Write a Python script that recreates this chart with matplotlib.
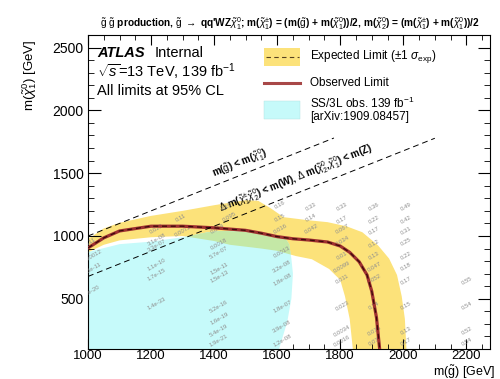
import matplotlib.pyplot as plt
from matplotlib.patches import Polygon, Rectangle
from matplotlib.lines import Line2D

plt.rcParams['font.family'] = ['Liberation Sans', 'DejaVu Sans']
plt.rcParams['mathtext.fontset'] = 'custom'
plt.rcParams['mathtext.rm'] = 'Liberation Sans'
plt.rcParams['mathtext.it'] = 'Liberation Sans:italic'
plt.rcParams['mathtext.bf'] = 'Liberation Sans:bold'

# observed limit
obs_x = [1000, 1050, 1100, 1200, 1300, 1400, 1500, 1550, 1600, 1650, 1700, 1760, 1800, 1830, 1860, 1885, 1900, 1915, 1925]
obs_y = [905, 985, 1040, 1078, 1078, 1065, 1045, 1022, 995, 978, 968, 952, 920, 870, 795, 690, 560, 350, 100]

# expected limit (sits on top of the observed one)
exp_x = [1000, 1050, 1100, 1200, 1300, 1400, 1500, 1550, 1600, 1650, 1700, 1760, 1800, 1830, 1860, 1885, 1900, 1915, 1925]
exp_y = [905, 985, 1040, 1078, 1078, 1065, 1045, 1022, 995, 978, 968, 952, 920, 870, 795, 690, 560, 350, 100]

# +1 sigma / -1 sigma edges of the expected band
up_x = [1000, 1050, 1100, 1200, 1300, 1400, 1500, 1540, 1580, 1620, 1700, 1760, 1820, 1870, 1920, 1955, 1980, 1995, 2005, 2010]
up_y = [975, 1060, 1105, 1160, 1200, 1245, 1285, 1280, 1220, 1150, 1125, 1110, 1077, 1030, 925, 820, 690, 520, 340, 100]
dn_x = [1000, 1050, 1100, 1200, 1300, 1400, 1450, 1500, 1550, 1600, 1660, 1710, 1765, 1800, 1815, 1830, 1840]
dn_y = [870, 930, 965, 990, 1000, 960, 930, 915, 900, 882, 840, 815, 737, 650, 520, 340, 100]

# SS/3L observed excluded region outline
ss3l_x = [1000, 1606, 1616, 1632, 1645, 1650, 1645, 1638, 1625, 1600, 1520, 1420, 1380, 1300, 1200, 1100, 1000]
ss3l_y = [100, 100, 184, 318, 500, 700, 820, 935, 985, 1005, 1035, 1040, 1030, 990, 955, 935, 872]

# CLs values printed at signal points
pt_x = [1010, 1015, 1015, 1010,
        1216, 1219, 1219, 1219, 1219, 1219, 1295, 1300,
        1440, 1450, 1410, 1416, 1416, 1416, 1416, 1416, 1416, 1416, 1416,
        1610, 1610, 1612, 1616, 1616, 1616, 1616, 1616, 1616,
        1708, 1708, 1708,
        1806, 1806, 1806, 1806, 1806, 1806, 1806, 1806, 1806, 1806,
        1908, 1908, 1908, 1908, 1908, 1908, 1908, 1908, 1908, 1908,
        2010, 2010, 2010, 2010, 2010, 2010, 2010, 2010, 2010, 2010,
        2203, 2203, 2203, 2203]
pt_y = [950, 840, 740, 555,
        1053, 975, 925, 775, 695, 460, 1148, 1040,
        1235, 1148, 1060, 935, 870, 740, 674, 437, 342, 247, 168,
        1251, 1148, 1053, 875, 753, 655, 440, 280, 168,
        1235, 1148, 1053,
        1235, 1132, 1053, 959, 840, 753, 658, 445, 247, 160,
        1235, 1132, 1045, 935, 840, 753, 658, 445, 247, 160,
        1235, 1132, 1045, 951, 840, 753, 640, 445, 247, 160,
        640, 445, 247, 160]
pt_txt = ['0.11', '0.00012', '1.5e-11', '1.3e-20',
          '0.022', '3.1e-08', '3.3e-07', '1.1e-10', '1.7e-15', '1.4e-33', '0.11', '0.0072',
          '0.19', '0.095', '0.034', '0.0018', '5.7e-07', '1.5e-11', '1.5e-13', '5.2e-16', '1.6e-19', '5.4e-19', '1.9e-21',
          '0.16', '0.15', '0.016', '0.0013', '3.2e-08', '1.8e-08', '1.8e-07', '3.9e-08', '1.2e-08',
          '0.33', '0.14', '0.042',
          '0.33', '0.17', '0.067', '0.034', '0.01', '0.0099', '0.011', '0.023', '0.0034', '0.0016',
          '0.36', '0.22', '0.17', '0.12', '0.13', '0.047', '0.052', '0.14', '0.075', '0.07',
          '0.49', '0.42', '0.31', '0.25', '0.22', '0.18', '0.17', '0.15', '0.13', '0.17',
          '0.55', '0.54', '0.52', '0.54']

# kinematic lines
kin1_x = [1000, 1780]
kin1_y = [1000, 1780]
kin2_x = [1000, 2100]
kin2_y = [678, 1778]

yellow = '#fce27a'
cyan = '#c6fafa'
green = '#c4e8a6'
red = '#9e3030'

fig = plt.figure(figsize=(5, 3.79), dpi=100)
ax = fig.add_axes([0.176, 0.079, 0.804, 0.8287])

band = Polygon(list(zip(up_x, up_y)) + list(zip(dn_x, dn_y))[::-1], closed=True,
               facecolor=yellow, edgecolor='none', zorder=1)
ax.add_patch(band)
ss = Polygon(list(zip(ss3l_x, ss3l_y)), closed=True, facecolor=cyan, edgecolor='none', zorder=2)
ax.add_patch(ss)
ov = Polygon(list(zip(ss3l_x, ss3l_y)), closed=True, facecolor=green, edgecolor='none', zorder=3)
ax.add_patch(ov)
ov.set_clip_path(band)

for x, y, t in zip(pt_x, pt_y, pt_txt):
    ax.text(x, y, t, fontsize=4.3, color='#8f8f8f', rotation=30, ha='center', va='center',
            rotation_mode='anchor', clip_on=True, zorder=4)

ax.plot(obs_x, obs_y, color=red, lw=2.3, zorder=5)
ax.plot(exp_x, exp_y, color='#3a0a0a', lw=0.9, ls=(0, (4, 3)), zorder=6)

ax.plot(kin1_x, kin1_y, color='black', lw=0.7, ls=(0, (6, 4)), zorder=6)
ax.plot(kin2_x, kin2_y, color='black', lw=0.7, ls=(0, (6, 4)), zorder=6)
ax.text(1480, 1580, r'm($\tilde{\mathrm{g}}$) < m($\tilde{\chi}^{0}_{1}$)', fontsize=7,
        fontweight='bold', rotation=21.9, ha='center', va='center', rotation_mode='anchor')
ax.text(1660, 1460,
        r'$\Delta$ m($\tilde{\chi}^{\pm}_{1}\tilde{\chi}^{0}_{2}$) < m(W), '
        r'$\Delta$ m($\tilde{\chi}^{0}_{2}$,$\tilde{\chi}^{0}_{1}$) < m(Z)',
        fontsize=7, fontweight='bold', rotation=21.9, ha='center', va='center', rotation_mode='anchor')

ax.set_xlim(1000, 2275)
ax.set_ylim(100, 2600)
ax.set_xticks([1000, 1200, 1400, 1600, 1800, 2000, 2200])
ax.set_xticks(range(1000, 2275, 50), minor=True)
ax.set_yticks([500, 1000, 1500, 2000, 2500])
ax.set_yticks(range(100, 2601, 100), minor=True)
ax.tick_params(axis='both', which='both', direction='in', top=True, right=True, labelsize=10)
ax.tick_params(axis='x', which='major', length=7, pad=0.5, labelsize=9.5)
ax.tick_params(axis='x', which='minor', length=3.5)
ax.tick_params(axis='y', which='major', length=9, pad=3)
ax.tick_params(axis='y', which='minor', length=4.5)
for s in ax.spines.values():
    s.set_linewidth(0.8)

# header texts
ax.text(0.022, 0.943, 'ATLAS', transform=ax.transAxes, fontsize=10.5, fontweight='bold',
        fontstyle='italic', va='center')
ax.text(0.165, 0.943, 'Internal', transform=ax.transAxes, fontsize=10.5, va='center')
ax.text(0.022, 0.882, r'$\sqrt{s}$=13 TeV, 139 fb$^{-1}$', transform=ax.transAxes, fontsize=10.5, va='center')
ax.text(0.022, 0.822, 'All limits at 95% CL', transform=ax.transAxes, fontsize=10.5, va='center')

# legend drawn by hand
ax.add_patch(Rectangle((0.438, 0.902), 0.089, 0.056, transform=ax.transAxes,
                       facecolor=yellow, edgecolor='none', zorder=7))
ax.add_line(Line2D([0.442, 0.524], [0.930, 0.930], transform=ax.transAxes, color='#554020',
                   lw=0.8, ls=(0, (4, 3)), zorder=8))
ax.text(0.552, 0.930, r'Expected Limit ($\pm$1 $\sigma_{\mathrm{exp}}$)', transform=ax.transAxes,
        fontsize=8.5, va='center')
ax.add_line(Line2D([0.438, 0.527], [0.847, 0.847], transform=ax.transAxes, color='#a84848',
                   lw=2.2, zorder=8))
ax.text(0.552, 0.847, 'Observed Limit', transform=ax.transAxes, fontsize=8.5, va='center')
ax.add_patch(Rectangle((0.438, 0.733), 0.089, 0.056, transform=ax.transAxes,
                       facecolor=cyan, edgecolor='#b0e0e0', lw=0.3, zorder=7))
ax.text(0.552, 0.783, r'SS/3L obs. 139 fb$^{-1}$', transform=ax.transAxes, fontsize=8.5, va='center')
ax.text(0.552, 0.739, '[arXiv:1909.08457]', transform=ax.transAxes, fontsize=8.5, va='center')

fig.text(0.58, 0.939,
         r'$\tilde{\mathrm{g}}$ $\tilde{\mathrm{g}}$ production, $\tilde{\mathrm{g}}$ $\rightarrow$ '
         r"qq'WZ$\tilde{\chi}^{0}_{1}$; m($\tilde{\chi}^{\pm}_{1}$) = (m($\tilde{\mathrm{g}}$) + "
         r'm($\tilde{\chi}^{0}_{1}$))/2, m($\tilde{\chi}^{0}_{2}$) = (m($\tilde{\chi}^{\pm}_{1}$) + '
         r'm($\tilde{\chi}^{0}_{1}$))/2',
         fontsize=7.3, fontweight='bold', ha='center', va='center')
fig.text(0.06, 0.895, r'm($\tilde{\chi}^{0}_{1}$) [GeV]', rotation=90, fontsize=9.5, ha='center', va='top')
fig.text(0.99, -0.004, r'm($\tilde{\mathrm{g}}$) [GeV]', fontsize=9, ha='right', va='bottom')

fig.savefig('out.png', dpi=100)
